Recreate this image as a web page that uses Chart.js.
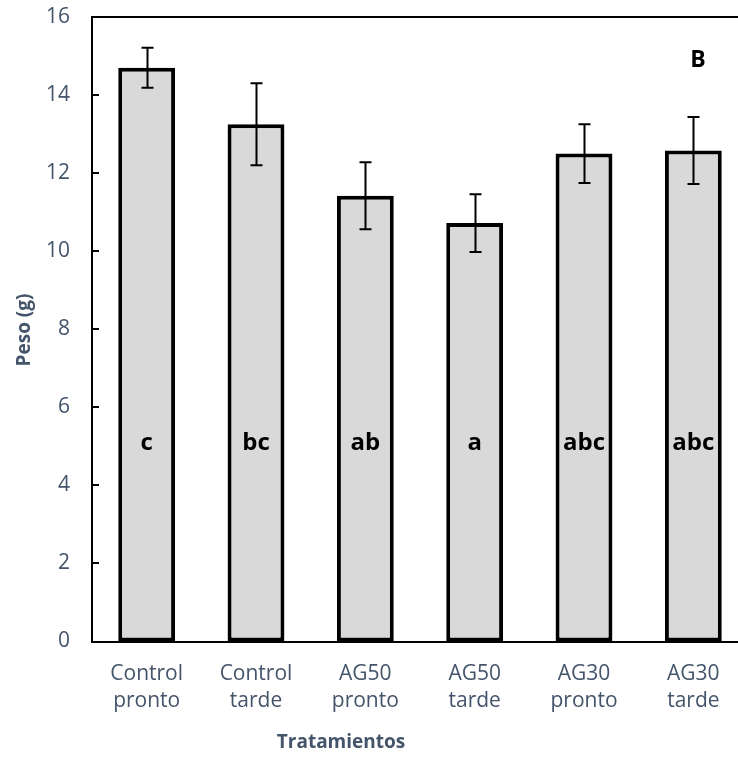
<!DOCTYPE html>
<html>
<head>
<meta charset="utf-8">
<script src="https://cdn.jsdelivr.net/npm/chart.js@4/dist/chart.umd.min.js"></script>
<style>
html,body{margin:0;padding:0;background:#fff;overflow:hidden;}
#wrap{width:760px;height:757px;}
</style>
</head>
<body>
<div id="wrap"><canvas id="c" width="760" height="757"></canvas></div>
<script>
const categories = [['Control','pronto'],['Control','tarde'],['AG50','pronto'],['AG50','tarde'],['AG30','pronto'],['AG30','tarde']];
const means = [14.70, 13.25, 11.42, 10.72, 12.50, 12.58];
const errors = [0.51, 1.05, 0.86, 0.74, 0.75, 0.86];
const letters = ['c','bc','ab','a','abc','abc'];
const yTicks = [0,2,4,6,8,10,12,14,16];
const panelLabel = 'B';
const xTitle = 'Tratamientos';
const yTitle = 'Peso (g)';

const slate = '#44546A';

const extras = {
  id: 'extras',
  afterDatasetsDraw(chart) {
    const ctx = chart.ctx;
    const x = chart.scales.x, y = chart.scales.y;
    const area = chart.chartArea;
    ctx.save();
    ctx.strokeStyle = '#000';
    ctx.lineWidth = 2;
    ctx.beginPath();
    ctx.moveTo(area.left - 1, area.top);
    ctx.lineTo(area.right + 20, area.top);
    ctx.stroke();
    yTicks.forEach(v => {
      const py = Math.round(y.getPixelForValue(v));
      ctx.beginPath();
      ctx.moveTo(area.left, py);
      ctx.lineTo(area.left + 7, py);
      ctx.stroke();
    });
    ctx.lineWidth = 2;
    means.forEach((m, i) => {
      const px = Math.round(x.getPixelForValue(i)) + 0.5;
      const top = y.getPixelForValue(m + errors[i]);
      const bot = y.getPixelForValue(m - errors[i]);
      ctx.beginPath();
      ctx.moveTo(px, top); ctx.lineTo(px, bot);
      ctx.moveTo(px - 6, top); ctx.lineTo(px + 6, top);
      ctx.moveTo(px - 6, bot); ctx.lineTo(px + 6, bot);
      ctx.stroke();
    });
    ctx.fillStyle = '#000';
    ctx.font = 'bold 24px "Open Sans"';
    ctx.textAlign = 'center';
    ctx.textBaseline = 'middle';
    letters.forEach((t, i) => {
      ctx.fillText(t, x.getPixelForValue(i), 443);
    });
    ctx.font = 'bold 23px "Open Sans"';
    ctx.fillText(panelLabel, 698, 60);
    ctx.fillStyle = slate;
    ctx.font = 'bold 19px "Open Sans"';
    ctx.fillText(xTitle, 341, 743);
    ctx.translate(25, 330);
    ctx.rotate(-Math.PI / 2);
    ctx.fillText(yTitle, 0, 0);
    ctx.restore();
  }
};

new Chart(document.getElementById('c'), {
  type: 'bar',
  data: {
    labels: categories,
    datasets: [{
      data: means,
      backgroundColor: '#D9D9D9',
      borderColor: '#000',
      borderWidth: 4,
      borderSkipped: false,
      barPercentage: 0.52,
      categoryPercentage: 1.0
    }]
  },
  options: {
    responsive: false,
    devicePixelRatio: 1,
    animation: false,
    layout: { padding: { top: 17, right: 12, left: 0, bottom: 0 } },
    plugins: { legend: { display: false }, tooltip: { enabled: false } },
    scales: {
      x: {
        grid: { display: false, drawTicks: false },
        border: { display: true, color: '#000', width: 2 },
        ticks: { color: slate, font: { family: 'Open Sans', size: 21, lineHeight: 1.3 }, padding: 19, maxRotation: 0, autoSkip: false },
        afterFit(s) { s.height = 115.5; s.paddingLeft = 0; s.paddingRight = 0; }
      },
      y: {
        min: 0, max: 16,
        grid: { display: false, drawTicks: false },
        border: { display: true, color: '#000', width: 2 },
        ticks: { stepSize: 2, color: slate, font: { family: 'Open Sans', size: 21 }, padding: 22 },
        afterFit(s) { s.width = 92; s.paddingTop = 0; s.paddingBottom = 0; }
      }
    }
  },
  plugins: [extras]
});
</script>
</body>
</html>
